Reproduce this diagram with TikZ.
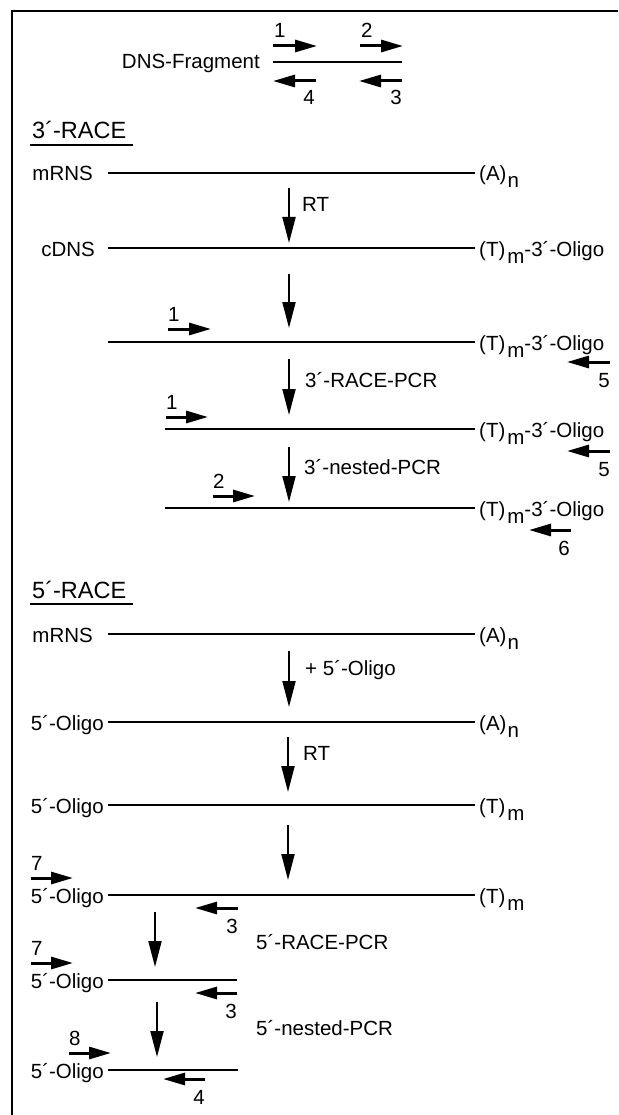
\documentclass[tikz,border=0pt]{standalone}
\usepackage{fontspec}
\setmainfont{Liberation Sans}
\usetikzlibrary{arrows.meta}
\begin{document}
\begin{tikzpicture}[x=1pt,y=-1pt,
  strand/.style={line width=2.5pt},
  primer/.style={line width=3pt,-{Triangle[length=22pt,width=12pt]}},
  proc/.style={line width=2pt,-{Triangle[length=26pt,width=13pt]}},
  txt/.style={inner sep=0pt,font=\fontsize{20.5}{24}\selectfont},
  head/.style={inner sep=0pt,font=\fontsize{23.5}{26}\selectfont},
  lt/.style={txt,anchor=base east},
  rt/.style={txt,anchor=base west},
  up/.style={txt,anchor=base west},
  dn/.style={txt,anchor=base east},
]
\useasboundingbox (0,0) rectangle (618,1115);
\fill[white] (0,0) rectangle (618,1115);
\draw[line width=2pt] (12,1115) -- (12,11) -- (618,11);

% ---------- DNS fragment ----------
\node[lt] (dns) at (260,69) {DNS-Fragment};
\coordinate (fa) at (273,62); \coordinate (fb) at (402,62);
\draw[strand] (fa) -- (fb);
\draw[primer] (273,46) -- (317,46); \node[up] (p1a) at (274,38) {1};
\draw[primer] (360,46) -- (403,46); \node[up] (p2a) at (361,38) {2};
\draw[primer] (316,81) -- (273,81); \node[dn] (p4a) at (315,105) {4};
\draw[primer] (402,81) -- (359,81); \node[dn] (p3a) at (402,105) {3};

% ---------- 3'-RACE ----------
\node[head,anchor=base west] (h3) at (32,139) {3´-RACE};
\draw[line width=1.4pt] (30,145) -- (133,145);

\node[lt] (m1) at (93,181) {mRNS};
\coordinate (m1a) at (108,173); \coordinate (m1b) at (475,173);
\draw[strand] (m1a) -- (m1b);
\node[rt] (m1r) at (479,181) {(A)\kern1pt\raisebox{-7pt}{n}};

\coordinate (a1s) at (289,188); \coordinate (a1e) at (289,243);
\draw[proc] (a1s) -- (a1e);
\node[txt,anchor=base west] (rt1) at (302,212) {RT};

\node[lt] (c1) at (95,256) {cDNS};
\coordinate (c1a) at (108,248); \coordinate (c1b) at (475,248);
\draw[strand] (c1a) -- (c1b);
\node[rt] (c1r) at (479,256) {(T)\kern2pt\raisebox{-7pt}{m}-3´-Oligo};

\coordinate (a2s) at (289,274); \coordinate (a2e) at (289,328);
\draw[proc] (a2s) -- (a2e);

\coordinate (d1a) at (108,342); \coordinate (d1b) at (475,342);
\draw[strand] (d1a) -- (d1b);
\node[rt] (d1r) at (479,350) {(T)\kern2pt\raisebox{-7pt}{m}-3´-Oligo};
\draw[primer] (168,329) -- (211,329); \node[up] (p1b) at (168,321) {1};
\draw[primer] (610,362) -- (567,362); \node[dn] (p5b) at (610,387) {5};

\coordinate (a3s) at (289,359); \coordinate (a3e) at (289,415);
\draw[proc] (a3s) -- (a3e);
\node[txt,anchor=base west] (l3) at (305,387) {3´-RACE-PCR};

\coordinate (d2a) at (165,429); \coordinate (d2b) at (475,429);
\draw[strand] (d2a) -- (d2b);
\node[rt] (d2r) at (479,437) {(T)\kern2pt\raisebox{-7pt}{m}-3´-Oligo};
\draw[primer] (166,417) -- (208,417); \node[up] (p1c) at (166,409) {1};
\draw[primer] (610,451) -- (567,451); \node[dn] (p5c) at (610,476) {5};

\coordinate (a4s) at (289,447); \coordinate (a4e) at (289,502);
\draw[proc] (a4s) -- (a4e);
\node[txt,anchor=base west] (l4) at (304,474) {3´-nested-PCR};

\coordinate (d3a) at (165,508); \coordinate (d3b) at (475,508);
\draw[strand] (d3a) -- (d3b);
\node[rt] (d3r) at (479,516) {(T)\kern2pt\raisebox{-7pt}{m}-3´-Oligo};
\draw[primer] (213,496) -- (255,496); \node[up] (p2d) at (213,488) {2};
\draw[primer] (571,530) -- (529,530); \node[dn] (p6d) at (570,555) {6};

% ---------- 5'-RACE ----------
\node[head,anchor=base west] (h5) at (32,598) {5´-RACE};
\draw[line width=1.4pt] (30,604) -- (133,604);

\node[lt] (m2) at (93,642) {mRNS};
\coordinate (m2a) at (108,634); \coordinate (m2b) at (475,634);
\draw[strand] (m2a) -- (m2b);
\node[rt] (m2r) at (479,642) {(A)\kern1pt\raisebox{-7pt}{n}};

\coordinate (b1s) at (289,651); \coordinate (b1e) at (289,707);
\draw[proc] (b1s) -- (b1e);
\node[txt,anchor=base west] (l5) at (305,675) {+ 5´-Oligo};

\node[lt] (o1) at (104,730) {5´-Oligo};
\coordinate (o1a) at (108,722); \coordinate (o1b) at (475,722);
\draw[strand] (o1a) -- (o1b);
\node[rt] (o1r) at (479,730) {(A)\kern1pt\raisebox{-7pt}{n}};

\coordinate (b2s) at (288,737); \coordinate (b2e) at (288,792);
\draw[proc] (b2s) -- (b2e);
\node[txt,anchor=base west] (rt2) at (303,760) {RT};

\node[lt] (o2) at (104,813) {5´-Oligo};
\coordinate (o2a) at (108,805); \coordinate (o2b) at (475,805);
\draw[strand] (o2a) -- (o2b);
\node[rt] (o2r) at (479,813) {(T)\kern2pt\raisebox{-7pt}{m}};

\coordinate (b3s) at (288,825); \coordinate (b3e) at (288,880);
\draw[proc] (b3s) -- (b3e);

\node[lt] (o3) at (104,903) {5´-Oligo};
\coordinate (o3a) at (108,895); \coordinate (o3b) at (475,895);
\draw[strand] (o3a) -- (o3b);
\node[rt] (o3r) at (479,903) {(T)\kern2pt\raisebox{-7pt}{m}};
\draw[primer] (31,878) -- (73,878); \node[up] (p7e) at (31,870) {7};
\draw[primer] (238,908) -- (195,908); \node[dn] (p3e) at (238,933) {3};

\coordinate (b4s) at (155,912); \coordinate (b4e) at (155,967);
\draw[proc] (b4s) -- (b4e);
\node[txt,anchor=base west] (l6) at (256,949) {5´-RACE-PCR};

\node[lt] (o4) at (104,988) {5´-Oligo};
\coordinate (o4a) at (108,980); \coordinate (o4b) at (237,980);
\draw[strand] (o4a) -- (o4b);
\draw[primer] (31,963) -- (73,963); \node[up] (p7f) at (31,955) {7};
\draw[primer] (237,993) -- (195,993); \node[dn] (p3f) at (237,1018) {3};

\coordinate (b5s) at (157,1002); \coordinate (b5e) at (157,1057);
\draw[proc] (b5s) -- (b5e);
\node[txt,anchor=base west] (l7) at (256,1035) {5´-nested-PCR};

\node[lt] (o5) at (104,1078) {5´-Oligo};
\coordinate (o5a) at (108,1070); \coordinate (o5b) at (238,1070);
\draw[strand] (o5a) -- (o5b);
\draw[primer] (69,1053) -- (111,1053); \node[up] (p8g) at (69,1045) {8};
\draw[primer] (205,1079) -- (163,1079); \node[dn] (p4g) at (205,1104) {4};
\end{tikzpicture}
\end{document}
